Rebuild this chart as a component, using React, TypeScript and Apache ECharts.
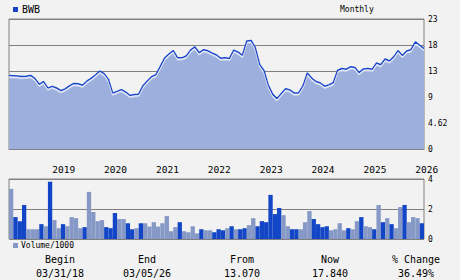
import React, { useEffect, useRef } from "react";
import * as echarts from "echarts";

// ---- data ----
const symbolName = "BWB";
const periodLabel = "Monthly";
const startYear = 2018;
const startMonth = 3; // first price point: March 2018

const price = [
  13.07, 13.03, 12.96, 12.9, 12.94, 13.08, 12.5, 11.5, 11.98, 10.82,
  11.13, 10.84, 10.36, 10.69, 11.23, 11.66, 11.58, 11.34, 12.05, 12.54,
  13.15, 13.85, 13.4, 12.38, 9.93, 10.24, 10.56, 10.09, 9.51, 9.7,
  9.75, 11.25, 12.09, 12.85, 13.2, 14.67, 16.16, 16.87, 17.5, 16.2,
  16.2, 16.53, 17.57, 18.13, 17.1, 17.64, 17.45, 17.03, 16.7, 16.12,
  16.2, 16.1, 17.56, 17.2, 16.65, 19.2, 19.28, 17.95, 14.99, 13.9,
  11.3, 9.71, 8.95, 9.87, 10.72, 10.47, 9.93, 9.97, 11.2, 13.49,
  12.6, 12.0, 11.73, 11.16, 11.4, 11.77, 13.94, 14.3, 14.17, 14.6,
  14.5, 13.56, 14.23, 14.3, 14.16, 15.27, 14.96, 16.0, 15.64, 16.37,
  17.47, 16.6, 17.4, 17.65, 19.03, 18.44, 17.84,
];

const volume = [
  3.34, 1.46, 1.19, 2.27, 0.65, 0.65, 0.65, 0.99, 0.85, 3.82,
  1.26, 0.72, 0.99, 0.85, 1.46, 1.39, 0.72, 0.79, 3.14, 1.8,
  1.19, 1.26, 0.79, 0.72, 1.73, 1.33, 1.33, 1.05, 0.65, 0.72,
  1.05, 1.05, 0.83, 1.12, 0.83, 1.05, 1.53, 0.52, 0.79, 1.12,
  0.52, 0.45, 0.85, 0.38, 0.65, 0.58, 0.58, 0.45, 0.65, 0.58,
  0.72, 0.85, 0.65, 0.65, 0.72, 0.92, 1.39, 0.85, 1.19, 1.12,
  2.94, 1.66, 2.07, 1.59, 0.85, 0.65, 0.65, 0.65, 1.12, 1.86,
  1.33, 0.99, 0.79, 0.85, 0.58, 0.65, 1.05, 0.58, 0.72, 0.65,
  1.19, 1.46, 0.85, 0.79, 0.65, 2.27, 1.12, 1.39, 0.99, 0.72,
  2.13, 2.27, 1.12, 1.46, 1.39, 1.05,
];

// 1 = dark bar, 0 = light bar
const volumeUp = [
  0, 1, 1, 1, 0, 0, 0, 1, 0, 1,
  0, 0, 1, 0, 0, 0, 0, 1, 0, 0,
  0, 0, 1, 1, 1, 0, 0, 1, 1, 0,
  1, 0, 0, 0, 0, 0, 0, 0, 0, 1,
  0, 0, 0, 0, 1, 0, 0, 1, 1, 1,
  0, 1, 0, 1, 1, 0, 0, 1, 1, 1,
  1, 1, 1, 0, 0, 1, 1, 0, 0, 0,
  1, 1, 1, 1, 0, 0, 0, 0, 1, 0,
  0, 1, 0, 0, 1, 0, 1, 0, 1, 0,
  0, 1, 0, 0, 0, 1,
];

const priceStep = 4.62;
const priceMax = 23.1;
const priceTickLabels = ["0", "4.62", "9", "13", "18", "23"];
const volumeMax = 4;
const volumeStep = 2;
const volumeLabel = "Volume/1000";

const tableHeaders = ["Begin", "End", "From", "Now", "% Change"];
const tableValues = ["03/31/18", "03/05/26", "13.070", "17.840", "36.49%"];

// ---- helpers ----
function monthList(y0: number, m0: number, n: number): string[] {
  const out: string[] = [];
  for (let i = 0; i < n; i++) {
    const t = y0 * 12 + (m0 - 1) + i;
    const y = Math.floor(t / 12);
    const m = (t % 12) + 1;
    out.push(`${y}-${m < 10 ? "0" + m : m}`);
  }
  return out;
}

const MONO = "DejaVu Sans Mono";
const BG = "#F2F2F2";
const AREA = "#9DB0DD";
const LINE = "#1448CC";
const DARK = "#1246C6";
const LIGHT = "#8698C5";
const GRID = "#808080";

export default function App() {
  const ref = useRef<HTMLDivElement>(null);

  useEffect(() => {
    if (!ref.current) return;
    const chart = echarts.init(ref.current, undefined, { renderer: "svg" });
    const priceMonths = monthList(startYear, startMonth, price.length);
    const volumeMonths = monthList(startYear, startMonth + 1, volume.length);
    const colX = [60, 147, 242, 330, 416];

    const graphic: any[] = [
      { type: "rect", shape: { x: 13, y: 7, width: 5, height: 5 }, style: { fill: DARK } },
      {
        type: "text", x: 22, y: 9.5,
        style: { text: symbolName, font: `10px ${MONO}`, fill: "#000", verticalAlign: "middle", align: "left" },
      },
      {
        type: "text", x: 340, y: 9.5,
        style: { text: periodLabel, font: `8px ${MONO}`, fill: "#000", verticalAlign: "middle", align: "left" },
      },
      { type: "rect", shape: { x: 13, y: 243, width: 5, height: 5 }, style: { fill: LIGHT } },
      {
        type: "text", x: 21, y: 245.5,
        style: { text: volumeLabel, font: `8px ${MONO}`, fill: "#000", verticalAlign: "middle", align: "left" },
      },
    ];
    tableHeaders.forEach((h, i) => {
      graphic.push({
        type: "text", x: colX[i], y: 259.5,
        style: { text: h, font: `10px ${MONO}`, fill: "#000", verticalAlign: "middle", align: "center" },
      });
    });
    tableValues.forEach((v, i) => {
      graphic.push({
        type: "text", x: colX[i], y: 273,
        style: { text: v, font: `10px ${MONO}`, fill: "#000", verticalAlign: "middle", align: "center" },
      });
    });

    chart.setOption({
      animation: false,
      backgroundColor: BG,
      grid: [
        { left: 9, right: 36, top: 19, height: 130, show: true, borderColor: GRID, borderWidth: 1, backgroundColor: "transparent" },
        { left: 9, right: 36, top: 179, height: 60, show: true, borderColor: GRID, borderWidth: 1, backgroundColor: "transparent" },
      ],
      xAxis: [
        {
          type: "category",
          gridIndex: 0,
          data: priceMonths,
          boundaryGap: false,
          z: 5,
          axisLine: { show: true, lineStyle: { color: GRID, width: 1 } },
          axisTick: { show: false },
          splitLine: { show: false },
          axisLabel: {
            interval: (_i: number, v: string) => v.endsWith("-01"),
            formatter: (v: string) => v.slice(0, 4),
            align: "left",
            margin: 15,
            fontFamily: MONO,
            fontSize: 9.5,
            color: "#000",
          },
        },
        {
          type: "category",
          gridIndex: 1,
          data: volumeMonths,
          boundaryGap: true,
          axisLine: { show: false },
          axisTick: { show: false },
          axisLabel: { show: false },
          splitLine: { show: false },
        },
      ],
      yAxis: [
        {
          type: "value",
          gridIndex: 0,
          position: "right",
          min: 0,
          max: priceMax,
          interval: priceStep,
          axisLine: { show: false },
          axisTick: { show: false },
          splitLine: { show: true, lineStyle: { color: GRID, width: 1 } },
          axisLabel: {
            formatter: (v: number) => priceTickLabels[Math.round(v / priceStep)] ?? "",
            margin: 4,
            fontFamily: MONO,
            fontSize: 8,
            color: "#000",
            padding: [3, 0, 0, 0],
          },
        },
        {
          type: "value",
          gridIndex: 1,
          position: "right",
          min: 0,
          max: volumeMax,
          interval: volumeStep,
          axisLine: { show: false },
          axisTick: { show: false },
          splitLine: { show: true, lineStyle: { color: GRID, width: 1 } },
          axisLabel: {
            margin: 4,
            fontFamily: MONO,
            fontSize: 8,
            color: "#000",
            padding: [3, 0, 0, 0],
          },
        },
      ],
      graphic,
      series: [
        {
          type: "line",
          xAxisIndex: 0,
          yAxisIndex: 0,
          data: price,
          symbol: "none",
          lineStyle: { color: LINE, width: 1.5, shadowColor: "rgba(255,255,255,0.9)", shadowOffsetY: 1.5, shadowBlur: 0 },
          areaStyle: { color: AREA, opacity: 1 },
        },
        {
          type: "bar",
          xAxisIndex: 1,
          yAxisIndex: 1,
          barCategoryGap: "0%",
          data: volume.map((v, i) => ({ value: v, itemStyle: { color: volumeUp[i] ? DARK : LIGHT } })),
        },
      ],
    });
    return () => chart.dispose();
  }, []);

  return <div ref={ref} style={{ position: "fixed", left: 0, top: 0, width: 460, height: 280 }} />;
}
